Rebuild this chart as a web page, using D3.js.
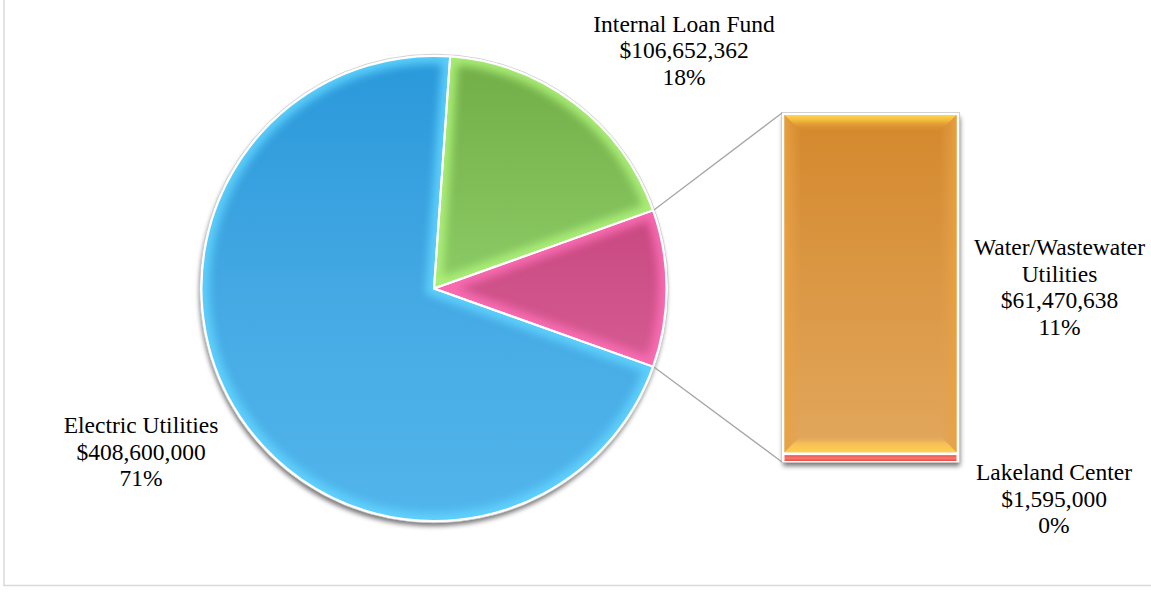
<!DOCTYPE html>
<html>
<head>
<meta charset="utf-8">
<script src="https://cdn.jsdelivr.net/npm/d3@7"></script>
<style>
  html, body { margin: 0; padding: 0; background: #fff; }
  svg { display: block; }
  text { font-family: "Liberation Serif", "Times New Roman", serif; font-size: 23.5px; fill: #000; }
</style>
</head>
<body>
<svg id="chart" width="1151" height="592"></svg>
<script>
// ---------- data ----------
const categories = ["Electric Utilities", "Internal Loan Fund", "Water/Wastewater Utilities", "Lakeland Center"];
const values = [408600000, 106652362, 61470638, 1595000];
const pieMembers = [0, 1];        // indices shown as pie slices
const barMembers = [2, 3];        // indices combined into "Other" and shown in the bar
const labelLines = [
  ["Electric Utilities"],
  ["Internal Loan Fund"],
  ["Water/Wastewater", "Utilities"],
  ["Lakeland Center"]
];

// ---------- layout ----------
const W = 1151, H = 592;
const cx = 434, cy = 288.5, R = 232.5;
const barX = 782, barW = 177, barTop = 113, barBottom = 462;
const lineH = 26.7;

const total = d3.sum(values);
const otherTotal = d3.sum(barMembers, i => values[i]);
const fmtMoney = v => "$" + d3.format(",")(v);
const fmtPct = v => Math.round(v / total * 100) + "%";

const svg = d3.select("#chart");
const defs = svg.append("defs");

// border of chart area
svg.append("rect").attr("x", 4).attr("y", -6).attr("width", W + 10).attr("height", 591.5)
  .attr("fill", "none").attr("stroke", "#d9d9d9").attr("stroke-width", 1.5);

// filters
const blur = defs.append("filter").attr("id", "blur").attr("x", "-20%").attr("y", "-20%").attr("width", "140%").attr("height", "140%");
blur.append("feGaussianBlur").attr("stdDeviation", 4.5);
const shadowF = defs.append("filter").attr("id", "shadow").attr("x", "-20%").attr("y", "-20%").attr("width", "140%").attr("height", "140%");
shadowF.append("feGaussianBlur").attr("stdDeviation", 2.5);

// gradients
function linGrad(id, stops, x1 = 0, y1 = 0, x2 = 0, y2 = 1) {
  const g = defs.append("linearGradient").attr("id", id)
    .attr("x1", x1).attr("y1", y1).attr("x2", x2).attr("y2", y2);
  stops.forEach(s => g.append("stop").attr("offset", s[0]).attr("stop-color", s[1]).attr("stop-opacity", s[2] === undefined ? 1 : s[2]));
  return "url(#" + id + ")";
}
const sliceStyles = [
  { fill: linGrad("gBlue", [[0, "#2a98da"], [0.55, "#46aae4"], [1, "#52b6ec"]]), bevel: "#62d6ff" },
  { fill: linGrad("gGreen", [[0, "#72ad47"], [1, "#8ccb66"]]), bevel: "#b0f57c" },
  { fill: linGrad("gPink", [[0, "#c84880"], [1, "#d65c93"]]), bevel: "#ff6fb8" }
];
const barFills = {
  2: linGrad("gOrange", [[0, "#d4882c"], [1, "#e2a75d"]]),
  3: linGrad("gRed", [[0, "#ee4f45"], [0.5, "#f77a70"], [1, "#ec4a40"]])
};
// bevel strip gradients for the bar
const bevTop = linGrad("bvTop", [[0, "#ffd84c", 1], [0.3, "#f6bd40", 0.95], [1, "#d88c2e", 0]]);
const bevBot = linGrad("bvBot", [[0, "#ffcf4c", 1], [0.5, "#fbc455", 0.85], [1, "#e2a75d", 0]], 0, 1, 0, 0);
const bevL = linGrad("bvL", [[0, "#eba23c", 0.9], [1, "#e0a050", 0]], 0, 0, 1, 0);
const bevR = linGrad("bvR", [[0, "#eba23c", 0.9], [1, "#e0a050", 0]], 1, 0, 0, 0);

// ---------- pie ----------
const pieData = pieMembers.map(i => ({ key: categories[i], value: values[i], idx: i }))
  .concat([{ key: "Other", value: otherTotal, idx: -1 }]);
const otherAngle = otherTotal / total * 2 * Math.PI;
const start = Math.PI / 2 + otherAngle / 2;
const pie = d3.pie().sort(null).value(d => d.value).startAngle(start).endAngle(start + 2 * Math.PI);
const arcs = pie(pieData);
const arc = d3.arc().innerRadius(0).outerRadius(R);

const pieG = svg.append("g").attr("transform", `translate(${cx},${cy})`);
pieG.append("circle").attr("cx", -1).attr("cy", 4).attr("r", R + 1)
  .attr("fill", "#000").attr("opacity", 0.55).attr("filter", "url(#shadow)");
pieG.append("circle").attr("r", R + 1.8).attr("fill", "#fff").attr("stroke", "#c8c8c8").attr("stroke-width", 0.8);

arcs.forEach((a, k) => {
  const st = sliceStyles[k];
  const cid = "clipSlice" + k;
  defs.append("clipPath").attr("id", cid).append("path").attr("d", arc(a)).attr("transform", `translate(${cx},${cy})`);
  const g = svg.append("g").attr("clip-path", `url(#${cid})`);
  const inner = g.append("g").attr("transform", `translate(${cx},${cy})`);
  inner.append("path").attr("d", arc(a)).attr("fill", st.fill);
  inner.append("path").attr("d", arc(a)).attr("fill", "none")
    .attr("stroke", st.bevel).attr("stroke-width", 16).attr("stroke-linejoin", "miter")
    .attr("opacity", 0.85).attr("filter", "url(#blur)");
});
const sepG = svg.append("g").attr("transform", `translate(${cx},${cy})`);
sepG.selectAll("path").data(arcs).join("path")
  .attr("d", arc).attr("fill", "none").attr("stroke", "#fff").attr("stroke-width", 2).attr("stroke-linejoin", "round");

// ---------- bar (breakdown of Other) ----------
const y = d3.scaleLinear().domain([0, otherTotal]).range([barBottom, barTop]);
const stackOrder = barMembers.slice().reverse();   // last member at the bottom
let acc = 0;
const segs = stackOrder.map(i => { const s = { idx: i, y0: acc, y1: acc + values[i] }; acc += values[i]; return s; });

const barG = svg.append("g");
barG.append("rect").attr("x", barX + 1).attr("y", y(otherTotal) + 4).attr("width", barW).attr("height", y(0) - y(otherTotal))
  .attr("fill", "#000").attr("opacity", 0.55).attr("filter", "url(#shadow)");
barG.append("rect").attr("x", barX - 0.5).attr("y", y(otherTotal) - 0.5).attr("width", barW + 1).attr("height", y(0) - y(otherTotal) + 1)
  .attr("fill", "#fff").attr("stroke", "#c8c8c8").attr("stroke-width", 0.8);

segs.forEach(s => {
  const x0 = barX + 2.5, w = barW - 5;
  const yT = y(s.y1) + 2, hgt = Math.max(1, y(s.y0) - y(s.y1) - 3);
  barG.append("rect").attr("x", x0).attr("y", yT).attr("width", w).attr("height", hgt).attr("fill", barFills[s.idx]);
  if (hgt > 40) {
    const b = 17, x1 = x0 + w, y1 = yT + hgt;
    const poly = pts => barG.append("polygon").attr("points", pts.map(p => p.join(",")).join(" "));
    poly([[x0, yT], [x0 + b, yT + b], [x0 + b, y1 - b], [x0, y1]]).attr("fill", bevL);
    poly([[x1, yT], [x1 - b, yT + b], [x1 - b, y1 - b], [x1, y1]]).attr("fill", bevR);
    poly([[x0, yT], [x1, yT], [x1 - b, yT + b], [x0 + b, yT + b]]).attr("fill", bevTop);
    poly([[x0, y1], [x1, y1], [x1 - b, y1 - b], [x0 + b, y1 - b]]).attr("fill", bevBot);
  }
});

// ---------- connector lines ----------
const other = arcs[arcs.length - 1];
const pt = ang => [cx + (R + 1) * Math.sin(ang), cy - (R + 1) * Math.cos(ang)];
const p1 = pt(other.startAngle), p2 = pt(other.endAngle);
svg.append("line").attr("x1", p1[0]).attr("y1", p1[1]).attr("x2", barX).attr("y2", y(otherTotal))
  .attr("stroke", "#a6a6a6").attr("stroke-width", 1.3);
svg.append("line").attr("x1", p2[0]).attr("y1", p2[1]).attr("x2", barX).attr("y2", y(0))
  .attr("stroke", "#a6a6a6").attr("stroke-width", 1.3);

// ---------- labels ----------
const labelPos = {
  0: [141, 433],
  1: [684, 31.5],
  2: [1059.5, 255],
  3: [1054, 480]
};
categories.forEach((c, i) => {
  const lines = labelLines[i].concat([fmtMoney(values[i]), fmtPct(values[i])]);
  const t = svg.append("text").attr("text-anchor", "middle")
    .attr("x", labelPos[i][0]).attr("y", labelPos[i][1]);
  lines.forEach((l, j) => t.append("tspan").attr("x", labelPos[i][0]).attr("dy", j === 0 ? 0 : lineH).text(l));
});
</script>
</body>
</html>
